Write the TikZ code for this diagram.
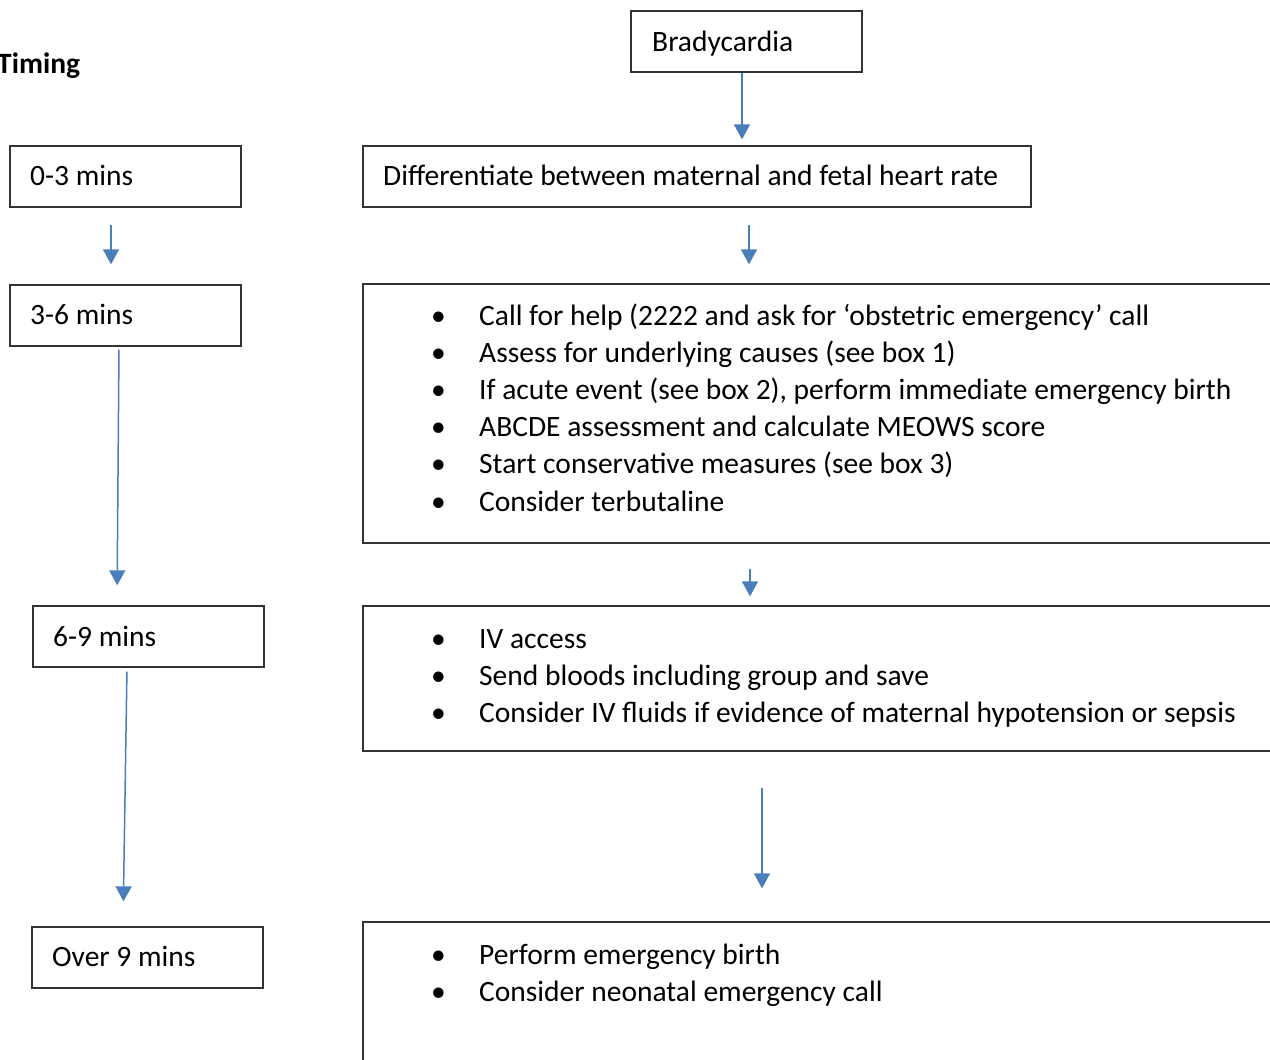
\documentclass[tikz,border=0pt]{standalone}
\usepackage{fontspec}
\setmainfont{Carlito}
\usetikzlibrary{arrows.meta}
\definecolor{arrblue}{HTML}{4A7EBB}
\begin{document}
\begin{tikzpicture}[x=1pt,y=-1pt,
  box/.style={draw=black!80, line width=1.3pt, inner sep=0pt, rectangle},
  txt/.style={inner sep=0pt, anchor=base west, font=\fontsize{29.5}{35}\selectfont},
  item/.style={txt},
  arr/.style={draw=arrblue, line width=1.5pt, -{Triangle[width=16pt,length=15pt]}}]
\clip (0,0) rectangle (1270,1060);
% heading
\node[txt, font=\fontsize{29.5}{35}\selectfont\bfseries] (timing) at (-3,73) {Timing};
% left column
\node[box, minimum width=231pt, minimum height=61pt] (t03) at (125.5,176.5) {};
\node[txt] (t03t) at (30,185) {0-3 mins};
\node[box, minimum width=231pt, minimum height=61pt] (t36) at (125.5,315.5) {};
\node[txt] (t36t) at (30,324) {3-6 mins};
\node[box, minimum width=231pt, minimum height=61pt] (t69) at (148.5,636.5) {};
\node[txt] (t69t) at (53,646) {6-9 mins};
\node[box, minimum width=231pt, minimum height=61pt] (t9) at (147.5,957.5) {};
\node[txt] (t9t) at (52,966) {Over 9 mins};
% right column
\node[box, minimum width=231pt, minimum height=61pt] (brady) at (746.5,41.5) {};
\node[txt] (bradyt) at (652,51) {Bradycardia};
\node[box, minimum width=668pt, minimum height=61pt] (diff) at (697,176.5) {};
\node[txt] (difft) at (383,185) {Differentiate between maternal and fetal heart rate};
\node[box, minimum width=922pt, minimum height=259pt] (b1) at (824,413.5) {};
\node[box, minimum width=922pt, minimum height=145pt] (b2) at (824,678.5) {};
\node[box, minimum width=922pt, minimum height=153pt] (b3) at (824,998.5) {};
% bullets box 1
\node[item] (b1a) at (431,325) {\makebox[48pt][l]{•}Call for help (2222 and ask for ‘obstetric emergency’ call};
\node[item] (b1b) at (431,362.2) {\makebox[48pt][l]{•}Assess for underlying causes (see box 1)};
\node[item] (b1c) at (431,399.4) {\makebox[48pt][l]{•}If acute event (see box 2), perform immediate emergency birth};
\node[item] (b1d) at (431,436.6) {\makebox[48pt][l]{•}ABCDE assessment and calculate MEOWS score};
\node[item] (b1e) at (431,473.8) {\makebox[48pt][l]{•}Start conservative measures (see box 3)};
\node[item] (b1f) at (431,511) {\makebox[48pt][l]{•}Consider terbutaline};
% bullets box 2
\node[item] (b2a) at (431,648) {\makebox[48pt][l]{•}IV access};
\node[item] (b2b) at (431,685) {\makebox[48pt][l]{•}Send bloods including group and save};
\node[item] (b2c) at (431,722) {\makebox[48pt][l]{•}Consider IV fluids if evidence of maternal hypotension or sepsis};
% bullets box 3
\node[item] (b3a) at (431,964) {\makebox[48pt][l]{•}Perform emergency birth};
\node[item] (b3b) at (431,1001) {\makebox[48pt][l]{•}Consider neonatal emergency call};
% connectors
\draw[arr, shorten >=6pt] (742,0 |- brady.south) -- (742,0 |- diff.north);
\draw[arr, shorten <=17pt, shorten >=19pt] (749,0 |- diff.south) -- (749,0 |- b1.north);
\draw[arr, shorten <=25pt, shorten >=9pt] (750,0 |- b1.south) -- (750,0 |- b2.north);
\draw[arr, shorten <=36pt, shorten >=33pt] (762,0 |- b2.south) -- (762,0 |- b3.north);
\draw[arr, shorten <=17pt, shorten >=20pt] (111,0 |- t03.south) -- (111,0 |- t36.north);
\draw[arr, shorten <=3pt, shorten >=20pt] (119,0 |- t36.south) -- (117,0 |- t69.north);
\draw[arr, shorten <=4pt, shorten >=25pt] (127,0 |- t69.south) -- (123,0 |- t9.north);
\end{tikzpicture}
\end{document}
